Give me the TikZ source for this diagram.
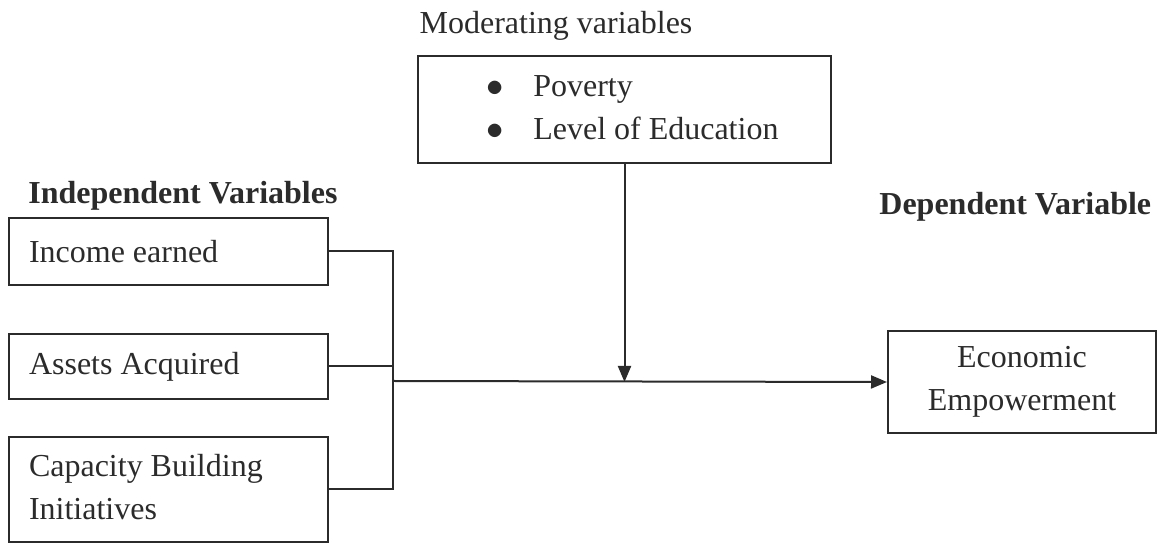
\documentclass[tikz,border=0pt]{standalone}
\usepackage{fontspec}
\setmainfont{Liberation Serif}
\usetikzlibrary{arrows.meta}
\definecolor{ink}{HTML}{2B2B2B}
\begin{document}
\begin{tikzpicture}[x=0.5pt,y=-0.5pt,
  box/.style={draw=ink, line width=1pt, rectangle, inner sep=0pt, anchor=north west, text=ink,
    font=\fontsize{16}{21.5}\selectfont},
  head/.style={text=ink, inner sep=0pt, font=\fontsize{16}{19}\selectfont},
  conn/.style={draw=ink, line width=1pt},
  arr/.style={conn, -{Triangle[length=8pt,width=6.5pt]}}]
\useasboundingbox (0,0) rectangle (1168,544);

\node[head, anchor=base] (modt) at (556,34) {Moderating variables};
\node[head, anchor=base west, font=\fontsize{16}{19}\selectfont\bfseries] (indt) at (28,204) {Independent Variables};
\node[head, anchor=base west, font=\fontsize{16}{19}\selectfont\bfseries] (dept) at (879,215) {Dependent Variable};

\node[box, minimum width=206.5pt, minimum height=53.5pt] (mod) at (417,55)
  {\makebox[206.5pt][l]{\hspace{34pt}\begin{tabular}{@{}l@{\hspace{15pt}}l@{}}$\bullet$ & Poverty\\ $\bullet$ & Level of Education\end{tabular}}};

\node[box, minimum width=159.5pt, minimum height=33.5pt] (inc) at (8,217)
  {\makebox[159.5pt][l]{\hspace{10pt}Income earned}};
\node[box, minimum width=159.5pt, minimum height=32.5pt] (ass) at (8,333)
  {\makebox[159.5pt][l]{\hspace{10pt}Assets Acquired}};
\node[box, minimum width=159.5pt, minimum height=52.5pt] (cap) at (8,436)
  {\makebox[159.5pt][l]{\hspace{10pt}\begin{tabular}{@{}l@{}}Capacity Building\\ Initiatives\end{tabular}}};

\node[box, minimum width=134pt, minimum height=51pt, align=center] (eco) at (887,330)
  {Economic\\ Empowerment};

\coordinate (br) at (393,381);
\draw[conn] (inc.east) -| (cap.east -| br) -- (cap.east);
\draw[conn] (ass.east) -- (ass.east -| br);
\draw[arr] (br) -- (eco.west);
\draw[arr] (mod.south) -- (mod.south |- eco.west);
\end{tikzpicture}
\end{document}
